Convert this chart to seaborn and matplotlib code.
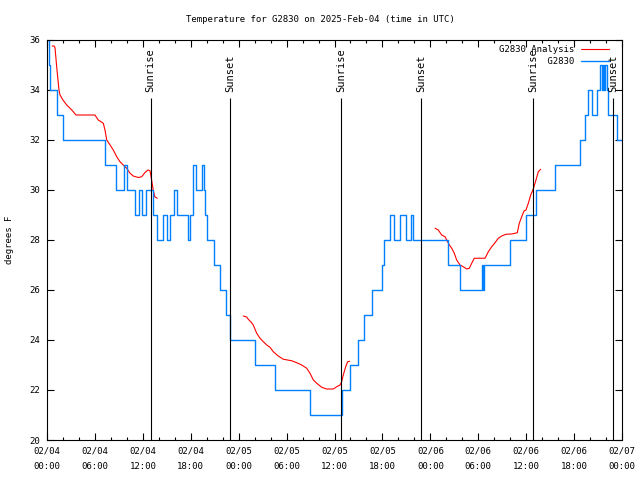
import numpy as np
import pandas as pd
import matplotlib
matplotlib.use('Agg')
import matplotlib.pyplot as plt
import matplotlib.dates as mdates
from matplotlib.lines import Line2D
import seaborn as sns

# hours since 2025-02-04 00:00 UTC
start = pd.Timestamp('2025-02-04 00:00')

# observed station temps (value holds until the next time)
obs_hours = [0.0, 0.19, 0.38, 1.3, 2.0, 7.3, 8.6, 9.7, 10.0, 11.0, 11.55, 11.85,
             12.35, 13.3, 13.8, 14.5, 15.0, 15.4, 15.95, 16.3, 17.7, 17.95, 18.25,
             18.65, 19.4, 19.6, 19.8, 20.05, 20.9, 21.7, 22.45, 22.95, 26.0, 28.6,
             32.9, 36.95, 37.95, 38.95, 39.7, 40.75, 41.95, 42.25, 43.0, 43.5, 44.2,
             44.95, 45.6, 45.85, 50.2, 51.7, 54.5, 54.6, 54.7, 58.0, 60.0, 61.2,
             63.55, 66.75, 67.4, 67.75, 68.3, 68.9, 69.25, 69.5, 69.6, 69.8, 69.9,
             70.1, 70.3, 71.4, 72.0]
obs_temps = [36, 35, 34, 33, 32, 31, 30, 31, 30, 29, 30, 29,
             30, 29, 28, 29, 28, 29, 30, 29, 28, 29, 31,
             30, 31, 30, 29, 28, 27, 26, 25, 24, 23, 22,
             21, 22, 23, 24, 25, 26, 27, 28, 29, 28, 29,
             28, 29, 28, 27, 26, 27, 26, 27, 28, 29, 30,
             31, 32, 33, 34, 33, 34, 35, 34, 35, 34, 35,
             34, 33, 32, 32]

# analysis, three runs
an1_hours = [0.66, 0.88, 1.0, 1.25, 1.5, 1.63, 2.0, 2.47, 3.1, 3.63, 6.0, 6.42, 7.05,
             7.26, 7.48, 7.9, 8.3, 8.73, 9.14, 9.55, 9.98, 10.4, 10.8, 11.43, 11.86,
             12.27, 12.65, 12.9, 13.1, 13.3, 13.5, 13.8]
an1_temps = [35.76, 35.76, 35.7, 34.8, 34.0, 33.8, 33.6, 33.4, 33.2, 33.0, 33.0, 32.8,
             32.67, 32.4, 32.0, 31.8, 31.6, 31.33, 31.13, 31.0, 30.87, 30.67, 30.56,
             30.5, 30.53, 30.7, 30.8, 30.77, 30.4, 30.0, 29.73, 29.67]
an2_hours = [24.58, 25.0, 25.2, 25.63, 25.83, 26.26, 26.67, 27.09, 27.51, 27.92, 28.34,
             28.96, 29.59, 30.64, 31.27, 31.89, 32.52, 32.93, 33.35, 33.77, 34.4, 35.02,
             35.85, 36.28, 36.69, 36.9, 37.1, 37.4, 37.65, 37.9]
an2_temps = [24.96, 24.92, 24.83, 24.69, 24.6, 24.27, 24.07, 23.93, 23.8, 23.71, 23.53,
             23.36, 23.23, 23.17, 23.09, 23.0, 22.87, 22.67, 22.4, 22.27, 22.11, 22.04,
             22.04, 22.13, 22.2, 22.33, 22.6, 22.93, 23.13, 23.15]
an3_hours = [48.59, 49.0, 49.42, 49.84, 50.05, 50.38, 50.68, 51.0, 51.3, 51.72, 52.13,
             52.55, 52.88, 53.18, 53.5, 54.85, 55.26, 55.68, 56.1, 56.51, 56.94, 57.48,
             58.19, 58.89, 59.14, 59.44, 59.73, 59.98, 60.27, 60.57, 60.88, 61.23,
             61.52, 61.82]
an3_temps = [28.47, 28.4, 28.2, 28.13, 28.0, 27.8, 27.67, 27.47, 27.2, 27.0, 26.93,
             26.84, 26.87, 27.07, 27.27, 27.27, 27.53, 27.73, 27.89, 28.07, 28.16, 28.23,
             28.24, 28.29, 28.67, 28.93, 29.16, 29.2, 29.47, 29.8, 30.03, 30.4, 30.73,
             30.83]

sun_hours = [12.98, 22.96, 36.87, 46.87, 60.9, 70.9]
sun_labels = ['Sunrise', 'Sunset', 'Sunrise', 'Sunset', 'Sunrise', 'Sunset']

to_time = lambda h: start + pd.to_timedelta(h, unit='h')

obs = pd.DataFrame({'time': to_time(obs_hours), 'temp': obs_temps})
ana = pd.concat([
    pd.DataFrame({'time': to_time(h), 'temp': t, 'run': i})
    for i, (h, t) in enumerate([(an1_hours, an1_temps), (an2_hours, an2_temps),
                                (an3_hours, an3_temps)])
])

sns.set_theme(style='ticks')
plt.rcParams['font.family'] = ['DejaVu Sans Mono']
plt.rcParams['font.size'] = 6.5
for k in ['text.color', 'axes.labelcolor', 'xtick.color', 'ytick.color', 'axes.edgecolor']:
    plt.rcParams[k] = 'black'

blue = '#0080ff'
fig = plt.figure(figsize=(6.4, 4.8), dpi=100)
ax = fig.add_axes([47 / 640, 40 / 480, 575 / 640, 400 / 480])

sns.lineplot(data=ana, x='time', y='temp', units='run', estimator=None, ax=ax,
             color='red', linewidth=0.8)
sns.lineplot(data=obs, x='time', y='temp', estimator=None, ax=ax, color=blue,
             linewidth=1.0, drawstyle='steps-post')

ax.vlines(to_time(sun_hours), 20, 33.68, colors='black', linewidth=0.8, zorder=5)
for h, lab in zip(sun_hours, sun_labels):
    ax.text(to_time(h), 33.9, lab, rotation=90, ha='center', va='bottom', fontsize=7.5)

ax.set_xlim(to_time(0), to_time(72))
ax.set_ylim(20, 36)
ax.xaxis.set_major_locator(mdates.HourLocator(byhour=[0, 6, 12, 18]))
ax.xaxis.set_minor_locator(mdates.HourLocator(byhour=range(0, 24, 2)))
ax.xaxis.set_major_formatter(mdates.DateFormatter('%m/%d\n%H:%M'))
ax.yaxis.set_major_locator(plt.MultipleLocator(2))
ax.tick_params(which='both', direction='in', top=True, right=True, width=0.8,
               labelsize=6.5)
ax.tick_params(which='major', length=5)
ax.tick_params(which='minor', length=2.5)
ax.tick_params(axis='x', pad=5)
ax.tick_params(axis='y', pad=5)
for lab in ax.get_xticklabels():
    lab.set_linespacing(1.8)
for s in ax.spines.values():
    s.set_linewidth(0.8)
    s.set_visible(True)

ax.set_xlabel('')
ax.set_ylabel('degrees F', fontsize=6.5)
ax.yaxis.set_label_coords(-0.057, 0.5)

fig.suptitle('Temperature for G2830 on 2025-Feb-04 (time in UTC)', x=0.5,
             y=1 - 19 / 480, va='center', fontsize=6.5)

handles = [Line2D([], [], color='red', linewidth=0.8),
           Line2D([], [], color=blue, linewidth=1.0)]
ax.legend(handles, ['G2830 Analysis', '         G2830'], loc='upper right',
          bbox_to_anchor=(0.9837, 0.9965), borderaxespad=0, frameon=False,
          markerfirst=False, handlelength=3.1, handletextpad=0.8, labelspacing=0.35,
          fontsize=6.5)

fig.savefig('out.png', dpi=100)
